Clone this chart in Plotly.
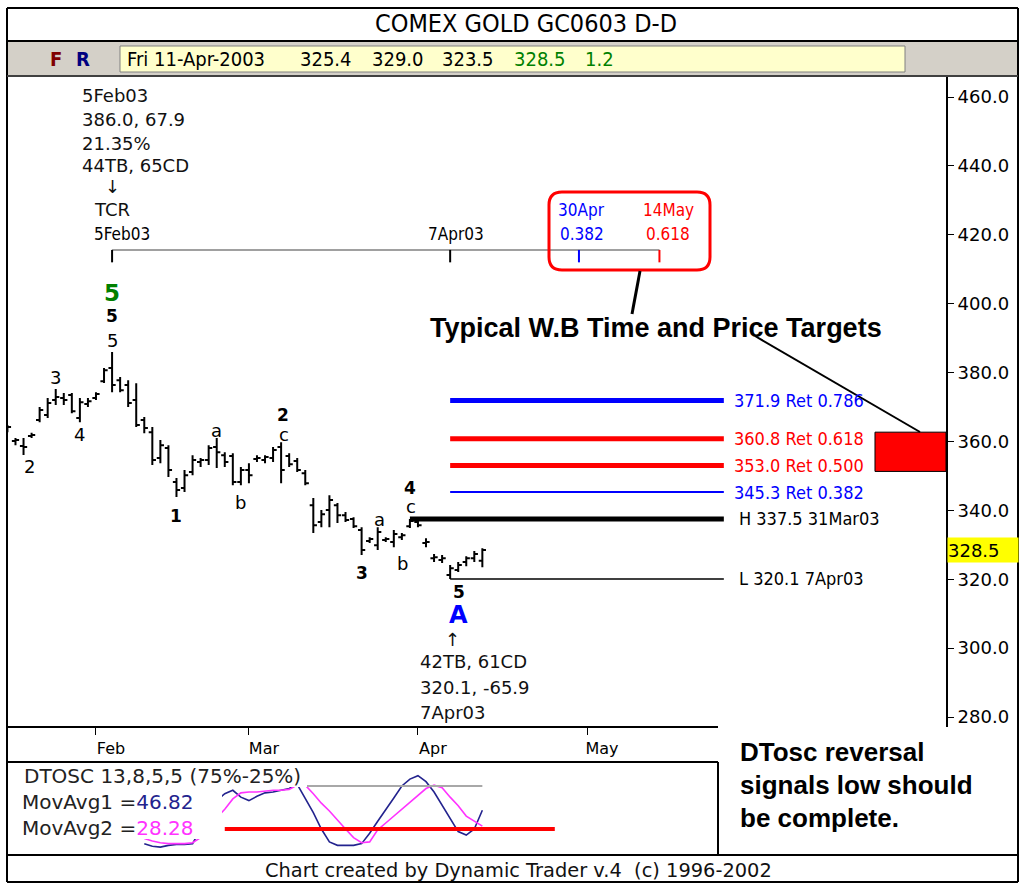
import datetime as dt
import plotly.graph_objects as go

W, H = 1023, 884

# ---------------- data ----------------
dates = ["2003-01-16", "2003-01-17", "2003-01-21", "2003-01-22", "2003-01-23", "2003-01-24",
         "2003-01-27", "2003-01-28", "2003-01-29", "2003-01-30", "2003-01-31",
         "2003-02-03", "2003-02-04", "2003-02-05", "2003-02-06", "2003-02-07", "2003-02-10",
         "2003-02-11", "2003-02-12", "2003-02-13", "2003-02-14", "2003-02-18", "2003-02-19",
         "2003-02-20", "2003-02-21", "2003-02-24", "2003-02-25", "2003-02-26", "2003-02-27",
         "2003-02-28",
         "2003-03-03", "2003-03-04", "2003-03-05", "2003-03-06", "2003-03-07", "2003-03-10",
         "2003-03-11", "2003-03-12", "2003-03-13", "2003-03-14", "2003-03-17", "2003-03-18",
         "2003-03-19", "2003-03-20", "2003-03-21", "2003-03-24", "2003-03-25", "2003-03-26",
         "2003-03-27", "2003-03-28", "2003-03-31",
         "2003-04-01", "2003-04-02", "2003-04-03", "2003-04-04", "2003-04-07", "2003-04-08",
         "2003-04-09", "2003-04-10", "2003-04-11"]
opens = [363.3, 360.1, 358.7, 361.6, 366.2, 367.7, 372.0, 372.6, 373.5, 366.8, 370.9,
         372.6, 377.5, 381.3, 377.8, 376.4, 372.0, 366.2, 362.7, 355.2, 358.1, 348.2, 346.5,
         351.1, 354.0, 354.6, 358.4, 356.0, 355.8, 348.2,
         351.7, 354.9, 354.6, 355.2, 358.4, 355.8, 354.3, 350.8, 341.5, 336.6, 340.1, 341.5,
         338.6, 337.5, 334.3, 331.1, 329.9, 331.4, 330.8, 332.2, 335.4,
         336.6, 330.5, 326.1, 325.6, 321.2, 322.7, 325.0, 326.1, 325.4]
highs = [364.8, 361.0, 361.0, 362.5, 370.0, 372.6, 375.2, 374.1, 374.1, 372.6, 372.6,
         374.3, 381.3, 386.0, 378.7, 377.8, 376.9, 367.1, 364.2, 360.4, 358.9, 349.4, 351.7,
         356.0, 355.2, 358.9, 361.0, 356.9, 356.6, 352.6,
         353.7, 356.0, 356.0, 358.4, 359.8, 356.6, 355.2, 351.7, 343.6, 340.1, 344.4, 342.1,
         339.5, 338.0, 335.1, 332.2, 335.1, 332.2, 334.3, 333.4, 337.5,
         337.2, 331.9, 327.3, 327.0, 324.1, 325.0, 326.7, 328.2, 329.0]
lows = [362.7, 358.9, 356.1, 361.0, 365.6, 366.8, 370.6, 370.6, 368.2, 365.6, 370.0,
        372.0, 377.0, 374.3, 374.3, 370.0, 364.2, 362.4, 353.2, 353.7, 349.7, 343.9, 345.3,
        350.2, 352.6, 353.2, 352.3, 352.6, 347.3, 347.3,
        347.9, 354.0, 353.7, 354.0, 347.9, 352.6, 351.1, 347.3, 333.4, 335.1, 335.1, 336.3,
        336.6, 334.9, 327.0, 330.5, 328.5, 330.8, 329.3, 331.4, 334.9,
        335.1, 329.3, 325.0, 324.7, 320.1, 322.1, 323.8, 325.0, 323.5]
closes = [364.2, 360.4, 358.4, 361.9, 369.1, 371.2, 372.9, 372.0, 368.8, 371.4, 371.7,
          373.8, 380.7, 376.4, 374.9, 371.2, 364.8, 363.9, 354.6, 358.9, 351.7, 345.9, 350.2,
          354.6, 354.6, 358.1, 356.9, 354.0, 348.2, 351.7,
          350.2, 355.2, 355.5, 357.5, 351.7, 353.4, 351.7, 347.9, 335.7, 338.9, 343.0, 338.6,
          337.2, 335.4, 328.5, 331.7, 333.7, 331.7, 333.1, 332.8, 336.9,
          335.7, 330.8, 326.4, 326.1, 323.2, 324.1, 326.1, 327.3, 328.5]

holidays = ["2003-01-20", "2003-02-17", "2003-04-18", "2003-05-26"]

osc_dates = dates[17:]
movavg1 = [8, 5, 4, 6, 7, 7, 8, 25, 45, 58, 66, 70, 62, 58, 63, 67, 68, 70, 72, 77,
           61, 44, 25, 10, 6, 6, 6, 8, 20, 34, 47, 61, 75, 83, 87, 80, 68, 53, 38, 22,
           18, 25, 46.82]
movavg2 = [14, 11, 9, 8, 8, 8, 9, 15, 25, 38, 48, 60, 67, 68, 68, 69, 70, 70, 71, 76,
           76, 66, 55, 46, 35, 25, 15, 9, 10, 24, 32, 40, 48, 56, 64, 72, 76, 73, 62, 52,
           40, 34, 28.28]
osc_upper, osc_upper_span = 75, ["2003-03-12", "2003-04-11"]
osc_lower, osc_lower_span = 25, ["2003-02-26", "2003-04-25"]

month_ticks = ["2003-02-03", "2003-03-03", "2003-04-01", "2003-05-01"]
month_labels = ["Feb", "Mar", "Apr", "May"]
price_ticks = [280, 300, 320, 340, 360, 380, 400, 420, 440, 460]

ret_levels = [371.9, 360.8, 353.0, 345.3]
ret_ratios = ["0.786", "0.618", "0.500", "0.382"]
ret_colors = ["#0000ff", "#ff0000", "#ff0000", "#0000ff"]
ret_widths = [5, 5, 5, 2]
swing_high, swing_high_date = 337.5, "2003-03-31"
swing_low, swing_low_date = 320.1, "2003-04-07"
proj_end = "2003-05-27"
target_zone = [351.3, 362.7]
last_price = 328.5

peak_date = "2003-02-05"
time_dates = ["2003-04-30", "2003-05-14"]
time_labels = ["30Apr", "14May"]
time_ratios = ["0.382", "0.618"]
time_colors = ["#0000ff", "#ff0000"]
ruler_level = 415.6

wave_dates = ["2003-01-22", "2003-01-27", "2003-01-30", "2003-02-05", "2003-02-05", "2003-02-05",
              "2003-02-18", "2003-02-25", "2003-02-28", "2003-03-07", "2003-03-07", "2003-03-21",
              "2003-03-25", "2003-03-28", "2003-03-31", "2003-03-31", "2003-04-07", "2003-04-07"]
wave_prices = [352.6, 378.7, 361.9, 389.4, 396.4, 403.0, 338.3, 363.3, 342.4, 367.8, 362.1,
               321.8, 337.2, 324.7, 346.5, 341.0, 316.3, 309.6]
wave_texts = ["2", "3", "4", "5", "5", "5", "1", "a", "b", "2", "c", "3", "a", "b", "4", "c", "5", "A"]
wave_styles = ["minor", "minor", "minor", "minor", "major", "green", "major", "minor", "minor",
               "major", "minor", "major", "minor", "minor", "major", "minor", "major", "blue"]
wave_shift = [-2, 0, 0, 0, 0, 0, 0, 0, 0, 2, 3, 0, 2, 1, 0, 1, 9, 8]

# ---------------- helpers ----------------
REG = "DejaVu Sans"
COND = "DejaVu Sans Condensed"
ARIAL = "Liberation Sans"


def px(x):
    return x / W


def py(y):
    return 1 - y / H


def noon(d):
    return d + " 12:00"


def ddmmmyy(d):
    return dt.date.fromisoformat(d).strftime("%d%b%y").lstrip("0")


annotations = []
shapes = []


def A(text, x, y, xref="x", yref="y", size=18, color="black", family=REG,
      xanchor="center", yanchor="middle", xshift=0, yshift=0, **kw):
    annotations.append(dict(text=text, x=x, y=y, xref=xref, yref=yref, showarrow=False,
                            font=dict(size=size, color=color, family=family),
                            xanchor=xanchor, yanchor=yanchor, xshift=xshift, yshift=yshift, **kw))


def pline(x0, y0, x1, y1, color="black", width=2):
    shapes.append(dict(type="line", xref="paper", yref="paper", x0=px(x0), y0=py(y0),
                       x1=px(x1), y1=py(y1), line=dict(color=color, width=width)))


def prect(x0, y0, x1, y1, fill, line_color=None, width=0):
    shapes.append(dict(type="rect", xref="paper", yref="paper", x0=px(x0), y0=py(y0),
                       x1=px(x1), y1=py(y1), fillcolor=fill,
                       line=dict(color=line_color or fill, width=width)))


def rounded_path(x0, y0, x1, y1, r):
    P = lambda x, y: f"{px(x):.5f},{py(y):.5f}"
    return (f"M{P(x0 + r, y0)} L{P(x1 - r, y0)} Q{P(x1, y0)} {P(x1, y0 + r)} "
            f"L{P(x1, y1 - r)} Q{P(x1, y1)} {P(x1 - r, y1)} L{P(x0 + r, y1)} "
            f"Q{P(x0, y1)} {P(x0, y1 - r)} L{P(x0, y0 + r)} Q{P(x0, y0)} {P(x0 + r, y0)} Z")


# ---------------- traces ----------------
fig = go.Figure()
fig.add_trace(go.Ohlc(
    x=[noon(d) for d in dates], open=opens, high=highs, low=lows, close=closes,
    increasing=dict(line=dict(color="black", width=2)),
    decreasing=dict(line=dict(color="black", width=2)),
    tickwidth=0.45, hoverinfo="skip", showlegend=False, xaxis="x", yaxis="y"))

fig.add_trace(go.Scatter(x=[noon(d) for d in osc_dates], y=movavg1, mode="lines",
                         line=dict(color="#23238e", width=1.6), hoverinfo="skip",
                         showlegend=False, xaxis="x2", yaxis="y2"))
fig.add_trace(go.Scatter(x=[noon(d) for d in osc_dates], y=movavg2, mode="lines",
                         line=dict(color="#ff33ff", width=1.6), hoverinfo="skip",
                         showlegend=False, xaxis="x2", yaxis="y2"))

# oscillator level lines
shapes.append(dict(type="line", xref="x2", yref="y2", x0=noon(osc_upper_span[0]), x1=noon(osc_upper_span[1]),
                   y0=osc_upper, y1=osc_upper, line=dict(color="#a8a8a8", width=2)))
shapes.append(dict(type="line", xref="x2", yref="y2", x0=noon(osc_lower_span[0]), x1=noon(osc_lower_span[1]),
                   y0=osc_lower, y1=osc_lower, line=dict(color="#ff0000", width=4)))

# white boxes behind oscillator legend text
prect(8, 763, 307, 787, "white")
prect(8, 787, 222, 839, "white")

# ---------------- frame ----------------
prect(8, 42, 1017, 75, "#d4d0c8")
prect(120, 46, 905, 72, "#ffffcc", "#808080", 1)
pline(7, 8, 1018, 8)
pline(7, 8, 7, 882)
pline(1018, 8, 1018, 882)
pline(7, 882, 1018, 882)
pline(7, 41, 1018, 41)
pline(7, 76, 1018, 76, "#404040", 2)
pline(7, 727, 718, 727)
pline(7, 762, 718, 762)
pline(718, 762, 718, 855)
pline(7, 855, 1018, 855)

# ---------------- price projections ----------------
for lvl, ratio, col, wdt in zip(ret_levels, ret_ratios, ret_colors, ret_widths):
    shapes.append(dict(type="line", xref="x", yref="y", x0=noon(swing_low_date), x1=noon(proj_end),
                       y0=lvl, y1=lvl, line=dict(color=col, width=wdt)))
    A(f"{lvl:.1f} Ret {ratio}", noon(proj_end), lvl, size=18, color=col, family=COND,
      xanchor="left", xshift=8)
shapes.append(dict(type="line", xref="x", yref="y", x0=noon(swing_high_date), x1=noon(proj_end),
                   y0=swing_high, y1=swing_high, line=dict(color="black", width=5)))
A(f"H {swing_high:.1f} {ddmmmyy(swing_high_date)}", noon(proj_end), swing_high, size=18,
  family=COND, xanchor="left", xshift=13)
shapes.append(dict(type="line", xref="x", yref="y", x0=noon(swing_low_date), x1=noon(proj_end),
                   y0=swing_low, y1=swing_low, line=dict(color="black", width=1.5)))
A(f"L {swing_low:.1f} {ddmmmyy(swing_low_date)}", noon(proj_end), swing_low, size=18,
  family=COND, xanchor="left", xshift=13)

shapes.append(dict(type="rect", xref="x domain", yref="y", x0=0.9243, x1=1.0,
                   y0=target_zone[0], y1=target_zone[1], fillcolor="#ff0000",
                   line=dict(color="black", width=1)))

# ---------------- time ruler ----------------
shapes.append(dict(type="line", xref="x", yref="y", x0=noon(peak_date), x1=noon(time_dates[-1]),
                   y0=ruler_level, y1=ruler_level, line=dict(color="#a0a0a0", width=2)))
for d, col in [(peak_date, "black"), (swing_low_date, "black")] + list(zip(time_dates, time_colors)):
    shapes.append(dict(type="line", xref="x", yref="y", x0=noon(d), x1=noon(d),
                       y0=ruler_level, y1=ruler_level - 3.6, line=dict(color=col, width=2)))
A(ddmmmyy(peak_date), noon("2003-02-03"), 420.2, size=17, family=COND, xanchor="left", xshift=-4)
A(ddmmmyy(swing_low_date), noon(swing_low_date), 420.2, size=17, family=COND, xshift=6)
for d, lab, r, col, sh in zip(time_dates, time_labels, time_ratios, time_colors, [3, 9]):
    A(lab, noon(d), 427.2, size=17, family=COND, color=col, xshift=sh)
    A(r, noon(d), 420.2, size=17, family=COND, color=col, xshift=sh)

shapes.append(dict(type="path", xref="paper", yref="paper", path=rounded_path(549, 192, 710, 270, 13),
                   line=dict(color="#ff0000", width=3)))
pline(640, 271, 632, 314, "black", 3)
pline(755, 336, 920, 432, "black", 2)

# ---------------- swing annotations ----------------
A("5Feb03", noon("2003-01-30"), 460.3, xanchor="left", color="#111")
A(f"{highs[dates.index(peak_date)]:.1f}, 67.9", noon("2003-01-30"), 453.6, xanchor="left", color="#111")
A("21.35%", noon("2003-01-30"), 446.6, xanchor="left", color="#111")
A("44TB, 65CD", noon("2003-01-30"), 440.0, xanchor="left", color="#111")
A("\u2193", noon(peak_date), 433.9, color="#111")
A("TCR", noon("2003-02-03"), 427.2, xanchor="left", xshift=-4, color="#111")

A("\u2191", noon(swing_low_date), 302.4, xshift=2, color="#111")
A("42TB, 61CD", noon("2003-04-01"), 296.0, xanchor="left", color="#111")
A(f"{lows[dates.index(swing_low_date)]:.1f}, -65.9", noon("2003-04-01"), 288.7, xanchor="left", color="#111")
A(ddmmmyy(swing_low_date), noon("2003-04-01"), 281.4, xanchor="left", color="#111")

style_map = {"minor": (18, "black", False), "major": (17, "black", True),
             "green": (23, "#008000", True), "blue": (24, "#0000ff", True)}
for d, p, t, s, sh in zip(wave_dates, wave_prices, wave_texts, wave_styles, wave_shift):
    size, col, bold = style_map[s]
    A(f"<b>{t}</b>" if bold else t, noon(d), p, size=size, color=col, xshift=sh, borderpad=0)

# ---------------- header / text ----------------
A("COMEX GOLD GC0603 D-D", px(526), py(23), xref="paper", yref="paper", size=25, family=COND)
A("<b>F</b>", px(56), py(59), xref="paper", yref="paper", size=20, family=COND, color="#800000")
A("<b>R</b>", px(83), py(59), xref="paper", yref="paper", size=20, family=COND, color="#000080")
last = len(dates) - 1
hdr = [(dt.date.fromisoformat(dates[last]).strftime("%a %d-%b-%Y").replace(" 0", " "), 125, "black"),
       (f"{opens[last]:.1f}", 298, "black"), (f"{highs[last]:.1f}", 370, "black"),
       (f"{lows[last]:.1f}", 440, "black"), (f"{closes[last]:.1f}", 512, "#008000"),
       (f"{closes[last] - closes[last - 1]:.1f}", 583, "#008000")]
for t, x, col in hdr:
    A(t, px(x), py(59), xref="paper", yref="paper", size=20, family=COND, color=col, xanchor="left")

A("<b>Typical W.B Time and Price Targets</b>", px(656), py(328), xref="paper", yref="paper",
  size=27, family=ARIAL)
for t, y in [("DTosc reversal", 752), ("signals low should", 785), ("be complete.", 818)]:
    A(f"<b>{t}</b>", px(738), py(y), xref="paper", yref="paper", size=26, family=ARIAL, xanchor="left")
A("Chart created by Dynamic Trader v.4\u00a0 (c) 1996-2002", px(518), py(870), xref="paper",
  yref="paper", size=19.4, color="#111")

A("DTOSC 13,8,5,5 (75%-25%)", px(22), py(776), xref="paper", yref="paper", size=20,
  color="#222", xanchor="left")
A(f"MovAvg1 =<span style='color:#23238e'>{movavg1[-1]:.2f}</span>", px(20), py(802),
  xref="paper", yref="paper", size=20, color="#222", xanchor="left")
A(f"MovAvg2 =<span style='color:#ff33ff'>{movavg2[-1]:.2f}</span>", px(20), py(828),
  xref="paper", yref="paper", size=20, color="#222", xanchor="left")

A(f"{last_price:.1f}", 1.0, last_price, xref="x domain", yref="y", size=18, xanchor="left",
  bgcolor="#ffff00", width=70, height=24, align="left", borderpad=0, xshift=1)

# ---------------- axes ----------------
breaks = [dict(bounds=["sat", "mon"]), dict(values=holidays)]
xdom = [8 / W, 946 / W]
xrange = ["2003-01-16 13:41", "2003-07-04 02:24"]

fig.update_layout(
    template="none",
    width=W, height=H, autosize=False, margin=dict(l=0, r=0, t=0, b=0, pad=0),
    paper_bgcolor="white", plot_bgcolor="white", showlegend=False,
    xaxis=dict(domain=xdom, type="date", range=xrange, rangebreaks=breaks, anchor="y",
               automargin=False, rangeslider=dict(visible=False),
               showgrid=False, zeroline=False, showline=False, ticks="outside", ticklen=7,
               tickwidth=1, tickcolor="black", tickvals=[noon(d) for d in month_ticks],
               ticktext=month_labels, tickfont=dict(family=REG, size=16, color="black"),
               ticklabelshift=15, fixedrange=True),
    yaxis=dict(domain=[1 - 727 / H, 1 - 76 / H], range=[277.1, 466.1], side="right", anchor="x",
               automargin=False,
               showgrid=False, zeroline=False, showline=True, linecolor="black", linewidth=2,
               ticks="outside", ticklen=6, tickcolor="black", tickvals=price_ticks,
               ticktext=[f"{v:.1f}" for v in price_ticks],
               tickfont=dict(family=REG, size=18, color="black"), fixedrange=True),
    xaxis2=dict(domain=xdom, type="date", matches="x", rangebreaks=breaks, anchor="y2",
                automargin=False, rangeslider=dict(visible=False), visible=False),
    yaxis2=dict(domain=[1 - 855 / H, 1 - 763 / H], range=[-5.2, 101.7], anchor="x2",
                automargin=False, visible=False, fixedrange=True),
    shapes=shapes, annotations=annotations,
)

fig.write_html("out.html", config={"displayModeBar": False},
               post_script="document.body.style.margin='0px';document.body.style.overflow='hidden';")
